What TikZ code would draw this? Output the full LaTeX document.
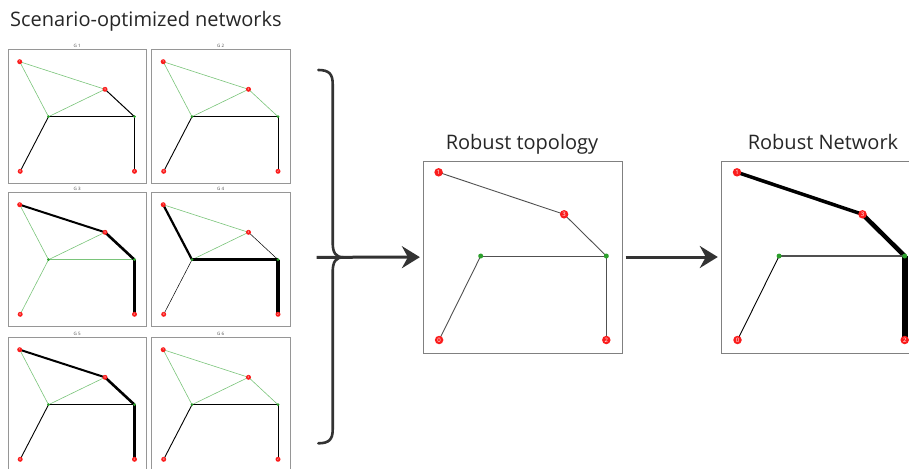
\documentclass[tikz,border=0pt]{standalone}
\usepackage{fontspec}
\setmainfont{Open Sans}
\usetikzlibrary{arrows.meta,backgrounds}

\definecolor{nodered}{RGB}{250,28,28}
\definecolor{hubgreen}{RGB}{44,160,44}
\definecolor{edgegreen}{RGB}{122,196,122}
\definecolor{framegray}{RGB}{150,150,150}
\definecolor{inkdark}{RGB}{51,51,51}
\definecolor{edgegray}{RGB}{80,80,80}

\tikzset{
  smallbox/.style={draw=framegray, line width=0.8pt, inner sep=0pt,
    minimum width=138.5pt, minimum height=134pt},
  bigbox/.style={draw=framegray!85!black, line width=0.8pt, inner sep=0pt,
    minimum width=199pt, minimum height=192pt},
  glabel/.style={text=black!70, font=\fontsize{4.5}{5}\selectfont, inner sep=1pt},
  redS/.style={circle, fill=nodered, inner sep=0pt, minimum size=5pt,
    text=white, font=\fontsize{3}{3}\selectfont},
  grnS/.style={circle, fill=hubgreen, inner sep=0pt, minimum size=3pt},
  redL/.style={circle, fill=nodered, inner sep=0pt, minimum size=8.5pt,
    text=white, font=\fontsize{6}{6}\selectfont},
  grnL/.style={circle, fill=hubgreen, inner sep=0pt, minimum size=5pt},
  gedge/.style={draw=edgegreen, line width=0.6pt},
  kedge/.style={draw=black, line width=#1},
  kedge/.default=1pt,
  tedge/.style={draw=edgegray, line width=#1},
  tedge/.default=0.9pt,
  heading/.style={font=\fontsize{20}{24}\selectfont, text=black!85, inner sep=0pt},
  flow/.style={draw=inkdark, line width=3pt,
    -{Stealth[length=18pt, width=22pt, inset=6pt]}},
  bracket/.style={draw=inkdark, line width=2.6pt, line cap=round},
}

% a scenario network: prefix, left, top, caption
\newcommand\smallnet[4]{%
  \node[smallbox] (#1box) at (#2+69.25,#3+67) {};
  \node[glabel, anchor=south] (#1lab) at (#1box.north) {#4};
  \node[redS] (#1n1) at (#2+11.7,#3+12.7) {1};
  \node[redS] (#1n3) at (#2+97,#3+40.3) {3};
  \node[grnS] (#1hl) at (#2+40.5,#3+67.7) {};
  \node[grnS] (#1hr) at (#2+126.5,#3+67.7) {};
  \node[redS] (#1n0) at (#2+12.2,#3+122.3) {0};
  \node[redS] (#1n2) at (#2+126.5,#3+122.3) {2};
}

% a large network panel: prefix, left, top
\newcommand\bignet[3]{%
  \node[bigbox] (#1) at (#2+99.5,#3+96) {};
  \node[redL] (#1n1) at (#2+15.3,#3+11.3) {1};
  \node[redL] (#1n3) at (#2+140.8,#3+53.3) {3};
  \node[grnL] (#1hl) at (#2+57.4,#3+95) {};
  \node[grnL] (#1hr) at (#2+183,#3+95) {};
  \node[redL] (#1n0) at (#2+15.8,#3+179) {0};
  \node[redL] (#1n2) at (#2+183,#3+179) {2};
}

\begin{document}
\begin{tikzpicture}[x=1pt, y=-1pt]
\useasboundingbox (0,0) rectangle (909,468);

% headings
\node[heading, anchor=base west] (tscen) at (10,27) {Scenario-optimized networks};
\node[heading, anchor=base] (ttopo) at (522,149) {Robust topology};
\node[heading, anchor=base] (tnet) at (823,149) {Robust Network};

% six scenario networks
\smallnet{a}{8}{49}{G 1}
\smallnet{b}{151.5}{49}{G 2}
\smallnet{c}{8}{192}{G 3}
\smallnet{d}{151.5}{192}{G 4}
\smallnet{e}{8}{337}{G 5}
\smallnet{f}{151.5}{337}{G 6}

% robust topology and robust network
\bignet{topo}{423.3}{161}
\bignet{rob}{721.7}{161}

\begin{scope}[on background layer]
  % G 1
  \draw[gedge] (an1.center) -- (an3.center);
  \draw[gedge] (an1.center) -- (ahl.center);
  \draw[gedge] (ahl.center) -- (an3.center);
  \draw[kedge=1pt] (an3.center) -- (ahr.center);
  \draw[kedge=1pt] (ahl.center) -- (ahr.center);
  \draw[kedge=0.9pt] (ahl.center) -- (an0.center);
  \draw[kedge=1.7pt] (ahr.center) -- (an2.center);
  % G 2
  \draw[gedge] (bn1.center) -- (bn3.center);
  \draw[gedge] (bn1.center) -- (bhl.center);
  \draw[gedge] (bhl.center) -- (bn3.center);
  \draw[gedge] (bn3.center) -- (bhr.center);
  \draw[kedge=1pt] (bhl.center) -- (bhr.center);
  \draw[kedge=0.9pt] (bhl.center) -- (bn0.center);
  \draw[kedge=0.9pt] (bhr.center) -- (bn2.center);
  % G 3
  \draw[gedge] (cn1.center) -- (chl.center);
  \draw[gedge] (chl.center) -- (cn3.center);
  \draw[gedge, line width=1pt] (chl.center) -- (chr.center);
  \draw[gedge] (chl.center) -- (cn0.center);
  \draw[kedge=2pt] (cn1.center) -- (cn3.center);
  \draw[kedge=2.6pt] (cn3.center) -- (chr.center);
  \draw[kedge=3pt] (chr.center) -- (cn2.center);
  % G 4
  \draw[gedge] (dn1.center) -- (dn3.center);
  \draw[gedge] (dhl.center) -- (dn3.center);
  \draw[kedge=2.2pt] (dn1.center) -- (dhl.center);
  \draw[kedge=3pt] (dhl.center) -- (dhr.center);
  \draw[kedge=3.6pt] (dhr.center) -- (dn2.center);
  \draw[kedge=0.5pt] (dn3.center) -- (dhr.center);
  \draw[kedge=0.5pt] (dhl.center) -- (dn0.center);
  % G 5
  \draw[gedge] (en1.center) -- (ehl.center);
  \draw[gedge] (ehl.center) -- (en3.center);
  \draw[kedge=2pt] (en1.center) -- (en3.center);
  \draw[kedge=2.6pt] (en3.center) -- (ehr.center);
  \draw[kedge=3.6pt] (ehr.center) -- (en2.center);
  \draw[kedge=1pt] (ehl.center) -- (ehr.center);
  \draw[kedge=0.9pt] (ehl.center) -- (en0.center);
  % G 6
  \draw[gedge] (fn1.center) -- (fn3.center);
  \draw[gedge] (fn1.center) -- (fhl.center);
  \draw[gedge] (fhl.center) -- (fn3.center);
  \draw[gedge] (fn3.center) -- (fhr.center);
  \draw[kedge=1pt] (fhl.center) -- (fhr.center);
  \draw[kedge=0.9pt] (fhl.center) -- (fn0.center);
  \draw[kedge=0.9pt] (fhr.center) -- (fn2.center);
  % robust topology
  \draw[tedge] (topon1.center) -- (topon3.center);
  \draw[tedge] (topon3.center) -- (topohr.center);
  \draw[tedge] (topohl.center) -- (topohr.center);
  \draw[tedge] (topohl.center) -- (topon0.center);
  \draw[tedge] (topohr.center) -- (topon2.center);
  % robust network
  \draw[kedge=3.5pt] (robn1.center) -- (robn3.center);
  \draw[kedge=4.5pt] (robn3.center) -- (robhr.center);
  \draw[kedge=6pt] (robhr.center) -- (robn2.center);
  \draw[tedge=2pt] (robhl.center) -- (robhr.center);
  \draw[kedge=0.9pt] (robhl.center) -- (robn0.center);
\end{scope}

% brace gathering the scenarios
\draw[bracket] (318.3,70) .. controls (329,70) and (332.7,74) .. (332.7,84)
  -- (332.7,243) .. controls (332.7,253) and (336,257.3) .. (343.3,257.3)
  .. controls (336,257.3) and (332.7,261.6) .. (332.7,271.6)
  -- (332.7,429.5) .. controls (332.7,439.5) and (329,443.3) .. (318.3,443.3);

% flow arrows
\coordinate (gather) at (316.7,257.3);
\draw[flow, shorten >=3pt] (gather) -- (topo);
\draw[flow, shorten <=3pt, shorten >=3.5pt] (topo) -- (rob);
\end{tikzpicture}
\end{document}
